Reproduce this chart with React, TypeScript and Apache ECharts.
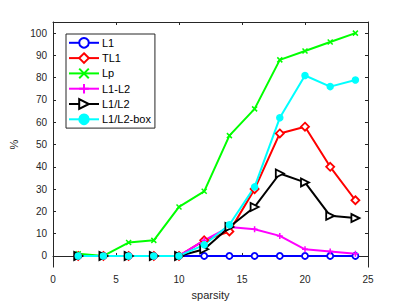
import React, { useEffect, useRef } from "react";
import * as echarts from "echarts";

const sparsity = [2, 4, 6, 8, 10, 12, 14, 16, 18, 20, 22, 24];
const L1 = [0, 0, 0, 0, 0, 0, 0, 0, 0, 0, 0, 0];
const TL1 = [0, 0, 0, 0, 0, 7, 11, 30, 55, 58, 40, 25];
const Lp = [1, 0, 6, 7, 22, 29, 54, 66, 88, 92, 96, 100];
const L1mL2 = [0, 0, 0, 0, 0, 7, 13, 12, 9, 3, 2, 1];
const L1dL2 = [0, 0, 0, 0, 0, 3, 13, 22, 37, 33, 18, 17];
const L1dL2box = [0, 0, 0, 0, 0, 5, 14, 31, 62, 81, 76, 79];
const yTicks = [0, 10, 20, 30, 40, 50, 60, 70, 80, 90, 100];

const FONT = "Liberation Sans, Arial, sans-serif";
const AX = "#262626";

const pair = (ys: number[]) => sparsity.map((x, i) => [x, ys[i]]);

export default function App() {
  const ref = useRef<HTMLDivElement>(null);
  useEffect(() => {
    if (!ref.current) return;
    const chart = echarts.init(ref.current, null, { renderer: "svg" });
    const mk = (name: string, data: number[], color: string, symbol: string, size: number, hollow: boolean, rotate = 0) => ({
      name,
      type: "line",
      data: pair(data),
      symbol,
      symbolSize: size,
      symbolRotate: rotate,
      showAllSymbol: true,
      lineStyle: { color, width: 2 },
      itemStyle: { color: hollow ? "#ffffff" : color, borderColor: color, borderWidth: hollow ? 1.8 : 1.5 },
      emphasis: { disabled: true },
    });
    chart.setOption({
      animation: false,
      backgroundColor: "#ffffff",
      textStyle: { fontFamily: FONT },
      grid: { left: 53, right: 39, top: 22, bottom: 34, show: false },
      legend: {
        left: 66,
        top: 34,
        orient: "vertical",
        backgroundColor: "#ffffff",
        borderColor: AX,
        borderWidth: 1,
        borderRadius: 0,
        padding: [3, 4, 3, 2],
        itemGap: 3.7,
        itemWidth: 30,
        itemHeight: 12,
        textStyle: { fontSize: 11, color: "#000", fontFamily: FONT, padding: [0, 0, 0, -2] },
        data: ["L1", "TL1", "Lp", "L1-L2", "L1/L2", "L1/L2-box"],
      },
      xAxis: [
        {
          type: "value",
          min: 0,
          max: 25,
          interval: 5,
          name: "sparsity",
          nameLocation: "middle",
          nameGap: 20,
          nameTextStyle: { fontSize: 11, color: AX },
          axisLine: { show: true, lineStyle: { color: AX, width: 1 } },
          axisTick: { show: true, inside: true, length: 3, lineStyle: { color: AX } },
          axisLabel: { fontSize: 10, color: AX, margin: 7 },
          splitLine: { show: false },
        },
        {
          type: "value",
          position: "top",
          min: 0,
          max: 25,
          interval: 5,
          axisLine: { show: true, onZero: false, lineStyle: { color: AX, width: 1 } },
          axisTick: { show: true, inside: true, length: 3, lineStyle: { color: AX } },
          axisLabel: { show: false },
          splitLine: { show: false },
        },
      ],
      yAxis: [
        {
          type: "value",
          min: -5,
          max: 105,
          name: "%",
          nameLocation: "middle",
          nameGap: 28,
          nameTextStyle: { fontSize: 11, color: AX },
          axisLine: { show: true, onZero: false, lineStyle: { color: AX, width: 1 } },
          axisTick: { show: true, inside: true, length: 3, customValues: yTicks, lineStyle: { color: AX } },
          axisLabel: { fontSize: 10, color: AX, margin: 6, customValues: yTicks },
          splitLine: { show: false },
        },
        {
          type: "value",
          position: "right",
          min: -5,
          max: 105,
          axisLine: { show: true, onZero: false, lineStyle: { color: AX, width: 1 } },
          axisTick: { show: true, inside: true, length: 3, customValues: yTicks, lineStyle: { color: AX } },
          axisLabel: { show: false },
          splitLine: { show: false },
        },
      ],
      series: [
        mk("L1", L1, "#0000ff", "circle", 6, true),
        mk("TL1", TL1, "#ff0000", "diamond", 8, true),
        mk("Lp", Lp, "#00ff00", "path://M0,0L10,10M10,0L0,10", 5, false),
        mk("L1-L2", L1mL2, "#ff00ff", "path://M5,0L5,10M0,5L10,5", 6, false),
        mk("L1/L2", L1dL2, "#000000", "triangle", 8, true, -90),
        mk("L1/L2-box", L1dL2box, "#00ffff", "circle", 6, false),
      ],
    });
    return () => chart.dispose();
  }, []);
  return <div ref={ref} style={{ position: "fixed", left: 0, top: 0, width: 407, height: 305 }} />;
}
